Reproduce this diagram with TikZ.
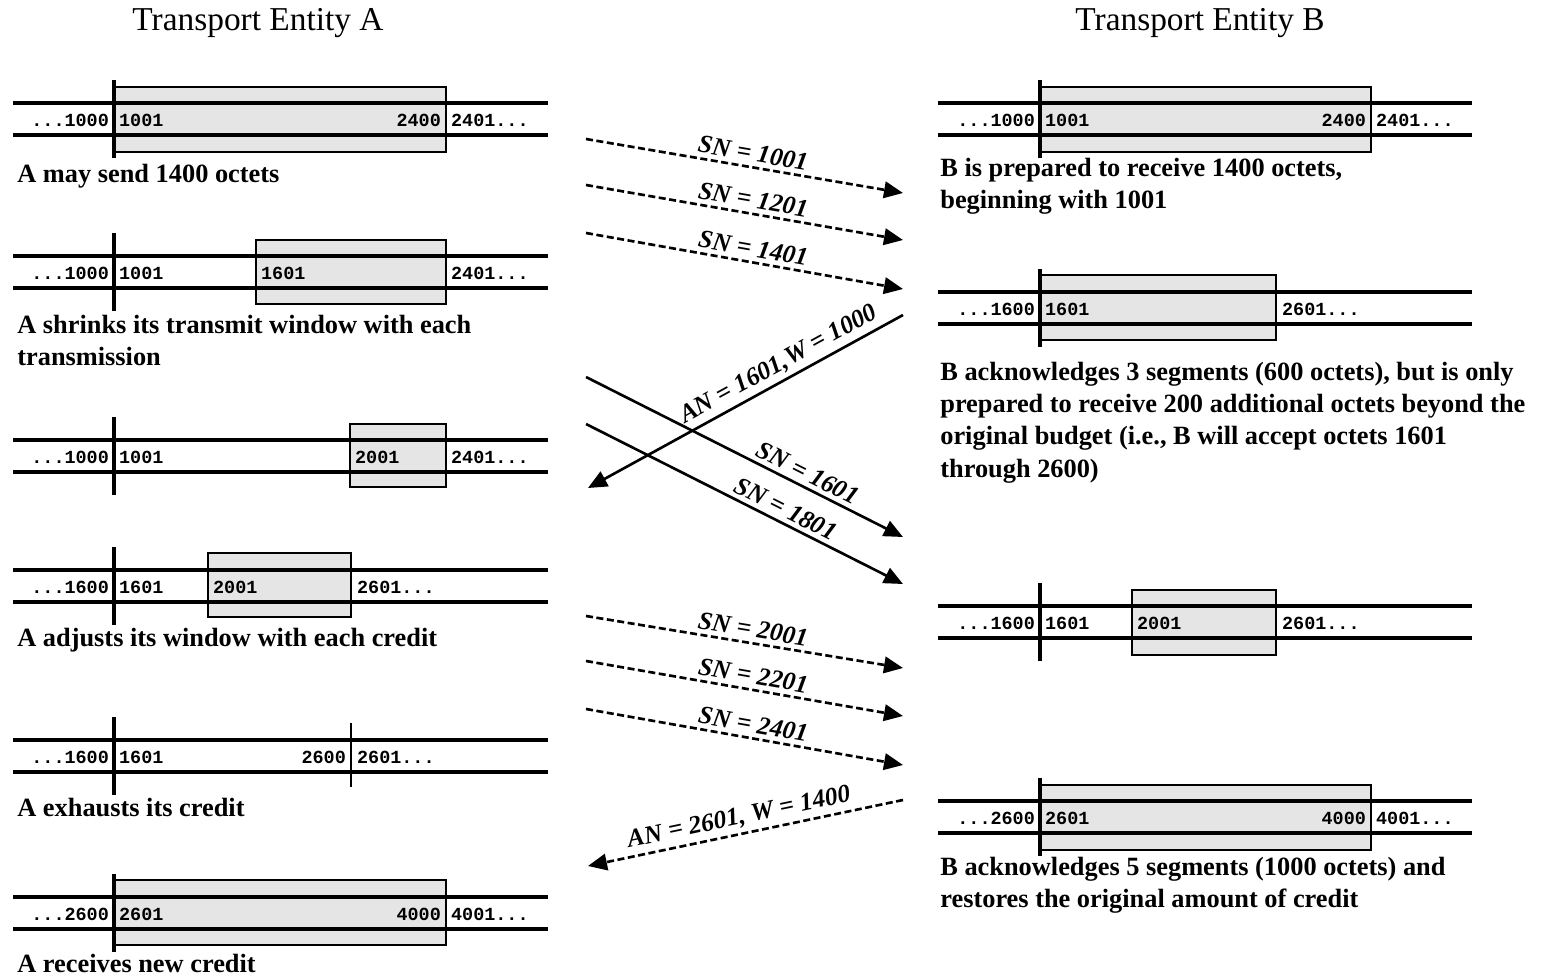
\documentclass[tikz,border=0pt]{standalone}
\usepackage{fontspec}
\setmainfont{Liberation Serif}
\setmonofont{Liberation Mono}
\usetikzlibrary{arrows.meta}

\begin{document}
\begin{tikzpicture}[x=0.2mm, y=-0.2mm,
    track/.style={line width=2pt},
    marker/.style={line width=2pt},
    window/.style={draw, line width=1.1pt, fill=gray!20},
    num/.style={font=\fontsize{10.5}{12}\selectfont\ttfamily\bfseries, inner sep=1pt},
    note/.style={font=\fontsize{15}{18.3}\selectfont\bfseries, align=left, inner sep=0pt},
    head/.style={font=\fontsize{19}{21}\selectfont},
    seg/.style={-{Triangle[length=3.8mm,width=3.3mm]}, line width=1.5pt},
    dseg/.style={seg, dash pattern=on 4pt off 2pt},
    tag/.style={font=\fontsize{14.5}{16}\selectfont\bfseries\itshape, sloped, above, inner sep=2.5pt}]

\useasboundingbox (0,0) rectangle (1547,977);

% headings
\node[head] (headA) at (258,23) {Transport Entity A};
\node[head] (headB) at (1200,23) {Transport Entity B};

% windows of entity A
\draw[window] (114,87) rectangle (446,152);
\draw[window] (256,240) rectangle (446,304);
\draw[window] (350,424) rectangle (446,487);
\draw[window] (208,553) rectangle (351,617);
\draw[window] (114,880) rectangle (446,945);
% windows of entity B
\draw[window] (1040,87) rectangle (1371,152);
\draw[window] (1040,275) rectangle (1276,340);
\draw[window] (1132,590) rectangle (1276,655);
\draw[window] (1040,785) rectangle (1371,850);

% sequence space
\foreach \y in {103,256,440,570,740,897} {
  \draw[track] (13,\y) -- (548,\y) (13,\y+32) -- (548,\y+32);
  \draw[marker] (114,\y-23) -- (114,\y+55);
}
\foreach \y in {103,292,606,801} {
  \draw[track] (938,\y) -- (1472,\y) (938,\y+32) -- (1472,\y+32);
  \draw[marker] (1040,\y-23) -- (1040,\y+55);
}
\draw[line width=1.1pt] (351,723) -- (351,787);

% numbers, entity A
\node[num, anchor=east] (a1l) at (111,120) {...1000};
\node[num, anchor=west] (a1f) at (117,120) {1001};
\node[num, anchor=east] (a1e) at (443,120) {2400};
\node[num, anchor=west] (a1n) at (449,120) {2401...};
\node[num, anchor=east] (a2l) at (111,273) {...1000};
\node[num, anchor=west] (a2f) at (117,273) {1001};
\node[num, anchor=west] (a2w) at (259,273) {1601};
\node[num, anchor=west] (a2n) at (449,273) {2401...};
\node[num, anchor=east] (a3l) at (111,457) {...1000};
\node[num, anchor=west] (a3f) at (117,457) {1001};
\node[num, anchor=west] (a3w) at (353,457) {2001};
\node[num, anchor=west] (a3n) at (449,457) {2401...};
\node[num, anchor=east] (a4l) at (111,587) {...1600};
\node[num, anchor=west] (a4f) at (117,587) {1601};
\node[num, anchor=west] (a4w) at (211,587) {2001};
\node[num, anchor=west] (a4n) at (355,587) {2601...};
\node[num, anchor=east] (a5l) at (111,757) {...1600};
\node[num, anchor=west] (a5f) at (117,757) {1601};
\node[num, anchor=east] (a5e) at (348,757) {2600};
\node[num, anchor=west] (a5n) at (355,757) {2601...};
\node[num, anchor=east] (a6l) at (111,914) {...2600};
\node[num, anchor=west] (a6f) at (117,914) {2601};
\node[num, anchor=east] (a6e) at (443,914) {4000};
\node[num, anchor=west] (a6n) at (449,914) {4001...};

% numbers, entity B
\node[num, anchor=east] (b1l) at (1037,120) {...1000};
\node[num, anchor=west] (b1f) at (1043,120) {1001};
\node[num, anchor=east] (b1e) at (1368,120) {2400};
\node[num, anchor=west] (b1n) at (1374,120) {2401...};
\node[num, anchor=east] (b2l) at (1037,309) {...1600};
\node[num, anchor=west] (b2f) at (1043,309) {1601};
\node[num, anchor=west] (b2n) at (1280,309) {2601...};
\node[num, anchor=east] (b3l) at (1037,623) {...1600};
\node[num, anchor=west] (b3f) at (1043,623) {1601};
\node[num, anchor=west] (b3w) at (1135,623) {2001};
\node[num, anchor=west] (b3n) at (1280,623) {2601...};
\node[num, anchor=east] (b4l) at (1037,818) {...2600};
\node[num, anchor=west] (b4f) at (1043,818) {2601};
\node[num, anchor=east] (b4e) at (1368,818) {4000};
\node[num, anchor=west] (b4n) at (1374,818) {4001...};

% captions
\node[note, anchor=west] (capA1) at (17,176) {A may send 1400 octets};
\node[note, anchor=north west] (capA2) at (17,315) {A shrinks its transmit window with each\\transmission};
\node[note, anchor=west] (capA4) at (17,640) {A adjusts its window with each credit};
\node[note, anchor=west] (capA5) at (17,808) {A exhausts its credit};
\node[note, anchor=west] (capA6) at (17,963) {A receives new credit};
\node[note, anchor=north west] (capB1) at (940,158) {B is prepared to receive 1400 octets,\\beginning with 1001};
\node[note, anchor=north west] (capB2) at (940,362) {B acknowledges 3 segments (600 octets), but is only\\prepared to receive 200 additional octets beyond the\\original budget (i.e., B will accept octets 1601\\through 2600)};
\node[note, anchor=north west] (capB4) at (940,857) {B acknowledges 5 segments (1000 octets) and\\restores the original amount of credit};

% segment ends
\coordinate (s1) at (586,139); \coordinate (r1) at (903,193);
\coordinate (s2) at (586,185); \coordinate (r2) at (903,240);
\coordinate (s3) at (586,233); \coordinate (r3) at (903,289);
\coordinate (k1) at (588,488); \coordinate (q1) at (903,315);
\coordinate (s4) at (586,377); \coordinate (r4) at (903,537);
\coordinate (s5) at (586,424); \coordinate (r5) at (903,584);
\coordinate (s6) at (586,616); \coordinate (r6) at (903,668);
\coordinate (s7) at (586,661); \coordinate (r7) at (903,716);
\coordinate (s8) at (586,709); \coordinate (r8) at (903,765);
\coordinate (k2) at (588,866); \coordinate (q2) at (903,800);

% segments and credits
\draw[dseg] (s1) -- (r1) node[tag, pos=0.52] (t1) {SN = 1001};
\draw[dseg] (s2) -- (r2) node[tag, pos=0.52] (t2) {SN = 1201};
\draw[dseg] (s3) -- (r3) node[tag, pos=0.52] (t3) {SN = 1401};
\draw[seg] (q1) -- (k1) node[tag, pos=0.37] (c1) {AN = 1601,W = 1000};
\draw[seg] (s4) -- (r4) node[tag, pos=0.68] (t4) {SN = 1601};
\draw[seg] (s5) -- (r5) node[tag, pos=0.61] (t5) {SN = 1801};
\draw[dseg] (s6) -- (r6) node[tag, pos=0.52] (t6) {SN = 2001};
\draw[dseg] (s7) -- (r7) node[tag, pos=0.52] (t7) {SN = 2201};
\draw[dseg] (s8) -- (r8) node[tag, pos=0.52] (t8) {SN = 2401};
\draw[dseg] (q2) -- (k2) node[tag, pos=0.51] (c2) {AN = 2601, W = 1400};
\end{tikzpicture}
\end{document}
